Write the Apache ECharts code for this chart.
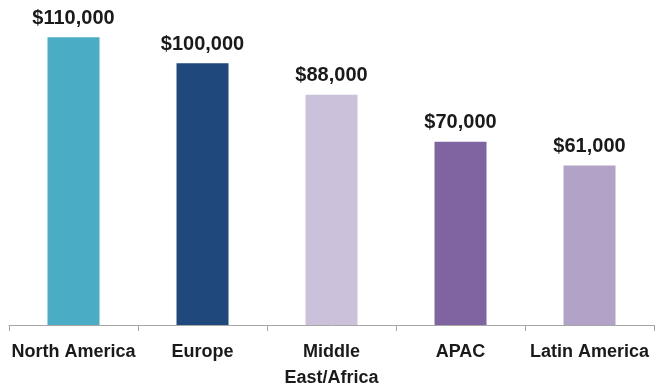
<!DOCTYPE html>
<html><head><meta charset="utf-8">
<script src="https://cdn.jsdelivr.net/npm/echarts@6/dist/echarts.min.js"></script>
<style>html,body{margin:0;padding:0;background:#fff}#c{width:664px;height:391px}</style>
</head><body><div id="c"></div>
<script>
const categories = ['North America', 'Europe', 'Middle\nEast/Africa', 'APAC', 'Latin America'];
const values = [110000, 100000, 88000, 70000, 61000];
const colors = ['#4BACC6', '#1F497D', '#CCC1DA', '#8064A2', '#B3A2C7'];

const chart = echarts.init(document.getElementById('c'));
chart.setOption({
  animation: false,
  grid: { left: 9, right: 10, top: 11, bottom: 65, containLabel: false },
  xAxis: {
    type: 'category', data: categories,
    axisLine: { show: true, lineStyle: { color: '#A6A6A6', width: 1 } },
    axisTick: { show: true, alignWithLabel: false, length: 6, lineStyle: { color: '#A6A6A6', width: 1 } },
    axisLabel: { color: '#1a1a1a', fontFamily: 'Liberation Sans', fontWeight: 'bold', fontSize: 18, margin: 14, lineHeight: 26, interval: 0 }
  },
  yAxis: { type: 'value', min: 0, max: 120000, show: false, splitLine: { show: false } },
  series: [{
    type: 'bar', barWidth: 52,
    data: values.map((v, i) => ({ value: v, itemStyle: { color: colors[i] } })),
    label: {
      show: true, position: 'top', distance: 9, color: '#1a1a1a',
      fontFamily: 'Liberation Sans', fontWeight: 'bold', fontSize: 20,
      formatter: p => '$' + p.value.toLocaleString('en-US')
    }
  }]
});
</script></body></html>
